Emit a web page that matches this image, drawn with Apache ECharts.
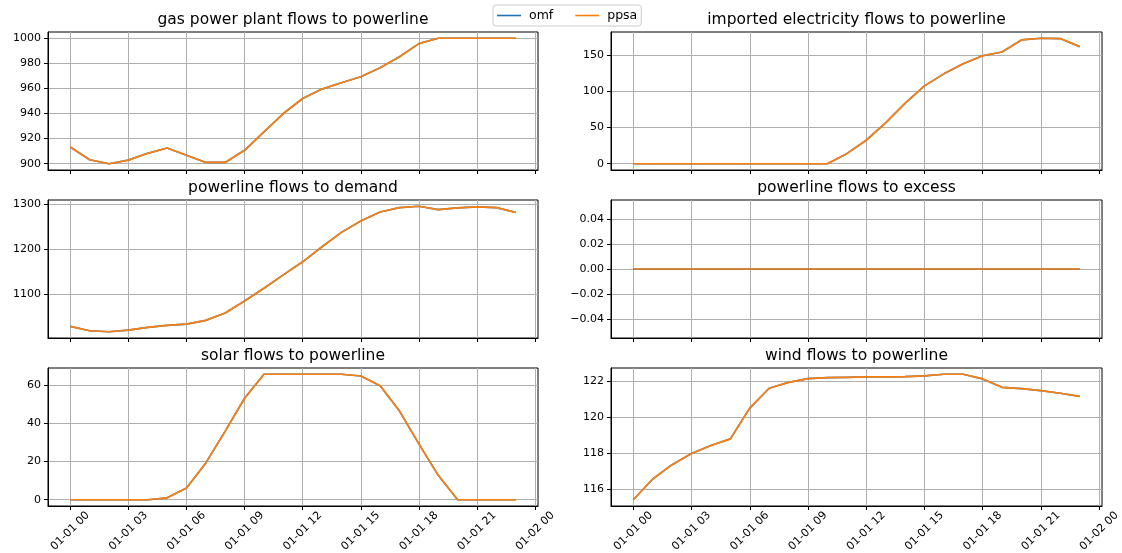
<!DOCTYPE html>
<html>
<head>
<meta charset="utf-8">
<script src="https://cdn.jsdelivr.net/npm/echarts@6/dist/echarts.min.js"></script>
<style>
html,body{margin:0;padding:0;background:#fff;}
#chart{width:1122px;height:553px;}
</style>
</head>
<body>
<div id="chart"></div>
<script>
// ---- data ----
const hours = [0,1,2,3,4,5,6,7,8,9,10,11,12,13,14,15,16,17,18,19,20,21,22,23];
const xTickHours = [0,3,6,9,12,15,18,21,24];
const xTickLabels = ['01-01 00','01-01 03','01-01 06','01-01 09','01-01 12','01-01 15','01-01 18','01-01 21','01-02 00'];
const seriesNames = ['omf','ppsa'];

const titles = [
  'gas power plant flows to powerline',
  'imported electricity flows to powerline',
  'powerline flows to demand',
  'powerline flows to excess',
  'solar flows to powerline',
  'wind flows to powerline'
];

const gasOmf  = [913.3,903.2,900,902.9,908.3,912.5,906.7,901,901,910.7,925.3,940,952,959.5,964.5,969.3,976.5,985.3,995.7,1000,1000,1000,1000,1000];
const gasPpsa = [913.3,903.2,900,902.9,908.3,912.5,906.7,901,901,910.7,925.3,940,952,959.5,964.5,969.3,976.5,985.3,995.7,1000,1000,1000,1000,1000];

const importOmf  = [0,0,0,0,0,0,0,0,0,0,0,13.9,32.4,56.5,83.3,107.4,124,137.9,149,154.2,170.8,173.1,172.7,161.6];
const importPpsa = [0,0,0,0,0,0,0,0,0,0,0,13.9,32.4,56.5,83.3,107.4,124,137.9,149,154.2,170.8,173.1,172.7,161.6];

const demandOmf  = [1029.6,1020,1017.8,1021.5,1027.4,1031.9,1034.8,1043,1059.3,1085.9,1114,1143.7,1172.6,1205.9,1237.8,1263,1283,1292.6,1295.6,1288.1,1291.9,1294.1,1292.6,1282.2];
const demandPpsa = [1029.6,1020,1017.8,1021.5,1027.4,1031.9,1034.8,1043,1059.3,1085.9,1114,1143.7,1172.6,1205.9,1237.8,1263,1283,1292.6,1295.6,1288.1,1291.9,1294.1,1292.6,1282.2];

const excessOmf  = [0,0,0,0,0,0,0,0,0,0,0,0,0,0,0,0,0,0,0,0,0,0,0,0];
const excessPpsa = [0,0,0,0,0,0,0,0,0,0,0,0,0,0,0,0,0,0,0,0,0,0,0,0];

const solarOmf  = [0,0,0,0,0,1,6.1,19.3,36,53.2,65.8,65.8,65.8,65.8,65.8,64.9,59.8,46.5,29.3,12.8,0,0,0,0];
const solarPpsa = [0,0,0,0,0,1,6.1,19.3,36,53.2,65.8,65.8,65.8,65.8,65.8,64.9,59.8,46.5,29.3,12.8,0,0,0,0];

const windOmf  = [115.4,116.56,117.36,117.98,118.43,118.8,120.52,121.63,121.96,122.17,122.22,122.24,122.26,122.26,122.28,122.32,122.41,122.41,122.15,121.68,121.61,121.5,121.35,121.18];
const windPpsa = [115.4,116.56,117.36,117.98,118.43,118.8,120.52,121.63,121.96,122.17,122.22,122.24,122.26,122.26,122.28,122.32,122.41,122.41,122.15,121.68,121.61,121.5,121.35,121.18];

const yTicks = [
  [900,920,940,960,980,1000],
  [0,50,100,150],
  [1100,1200,1300],
  [-0.04,-0.02,0,0.02,0.04],
  [0,20,40,60],
  [116,118,120,122]
];
const yTickLabels = [
  ['900','920','940','960','980','1000'],
  ['0','50','100','150'],
  ['1100','1200','1300'],
  ['\u22120.04','\u22120.02','0.00','0.02','0.04'],
  ['0','20','40','60'],
  ['116','118','120','122']
];

const panelData = [
  [gasOmf, gasPpsa],
  [importOmf, importPpsa],
  [demandOmf, demandPpsa],
  [excessOmf, excessPpsa],
  [solarOmf, solarPpsa],
  [windOmf, windPpsa]
];

// ---- layout ----
const colLeft = [48, 611];
const colWidth = [490, 491];
const rowTop = [32, 200, 368];
const rowHeight = 138;
const titleTop = [12, 180, 348];
const colors = ['#1f77b4', '#ff7f0e'];
const FONT = 'DejaVu Sans';

function padRange(vals) {
  let mn = Math.min(...vals), mx = Math.max(...vals);
  if (mx === mn) { mn -= 0.05; mx += 0.05; }
  const r = mx - mn;
  return [mn - 0.05 * r, mx + 0.05 * r];
}
const xr = padRange(hours);

const grids = [], xAxes = [], yAxes = [], series = [], titleOpts = [];
for (let i = 0; i < 6; i++) {
  const row = Math.floor(i / 2), col = i % 2;
  grids.push({
    left: colLeft[col], top: rowTop[row], width: colWidth[col], height: rowHeight,
    show: true, borderColor: '#000', borderWidth: 1, backgroundColor: 'transparent',
    containLabel: false, outerBoundsMode: 'none'
  });
  titleOpts.push({
    text: titles[i],
    left: colLeft[col] + colWidth[col] / 2,
    top: titleTop[row],
    textAlign: 'center',
    padding: 0,
    textStyle: { fontFamily: FONT, fontSize: 15.5, fontWeight: 'normal', color: '#000' }
  });
  const isBottom = row === 2;
  xAxes.push({
    type: 'value', gridIndex: i, min: xr[0], max: xr[1],
    axisLine: { show: true, onZero: false, lineStyle: { color: '#000', width: 1 } },
    axisTick: { show: true, length: 4, lineStyle: { color: '#000', width: 1 }, customValues: xTickHours },
    axisLabel: {
      show: isBottom, customValues: xTickHours, rotate: 45, align: 'center', verticalAlign: 'middle',
      margin: 25, fontFamily: FONT, fontSize: 11, color: '#000', hideOverlap: false,
      formatter: v => { const k = xTickHours.indexOf(Math.round(v)); return k >= 0 ? xTickLabels[k] : ''; }
    },
    splitLine: { show: true, lineStyle: { color: '#b0b0b0', width: 1 } }
  });
  const allVals = panelData[i][0].concat(panelData[i][1]);
  const yr = padRange(allVals);
  const ticks = yTicks[i], labels = yTickLabels[i];
  yAxes.push({
    type: 'value', gridIndex: i, min: yr[0], max: yr[1],
    axisLine: { show: true, onZero: false, lineStyle: { color: '#000', width: 1 } },
    axisTick: { show: true, length: 4, lineStyle: { color: '#000', width: 1 }, customValues: ticks },
    axisLabel: {
      show: true, customValues: ticks, margin: 7, fontFamily: FONT, fontSize: 11, color: '#000',
      formatter: v => {
        let best = 0, bd = Infinity;
        ticks.forEach((t, k) => { const d = Math.abs(t - v); if (d < bd) { bd = d; best = k; } });
        return labels[best];
      }
    },
    splitLine: { show: true, lineStyle: { color: '#b0b0b0', width: 1 } }
  });
  for (let s = 0; s < 2; s++) {
    series.push({
      name: seriesNames[s], type: 'line', xAxisIndex: i, yAxisIndex: i,
      data: hours.map((h, k) => [h, panelData[i][s][k]]),
      symbol: 'none', showSymbol: false, animation: false, z: 2 + s,
      lineStyle: { color: colors[s], width: 1.7 }, itemStyle: { color: colors[s] }
    });
  }
}

const chart = echarts.init(document.getElementById('chart'), null, { renderer: 'canvas' });
chart.setOption({
  animation: false,
  backgroundColor: '#fff',
  title: titleOpts,
  legend: {
    data: seriesNames.map(n => ({ name: n, icon: 'rect' })),
    left: 493, top: 5, orient: 'horizontal',
    itemWidth: 24, itemHeight: 1.6, itemGap: 22,
    padding: [4, 4, 4, 4],
    borderColor: '#cccccc', borderWidth: 1, borderRadius: 3, backgroundColor: '#fff',
    textStyle: { fontFamily: FONT, fontSize: 12.5, color: '#000', padding: [0, 0, 0, 3], lineHeight: 13 }
  },
  grid: grids,
  xAxis: xAxes,
  yAxis: yAxes,
  series: series
});
</script>
</body>
</html>
